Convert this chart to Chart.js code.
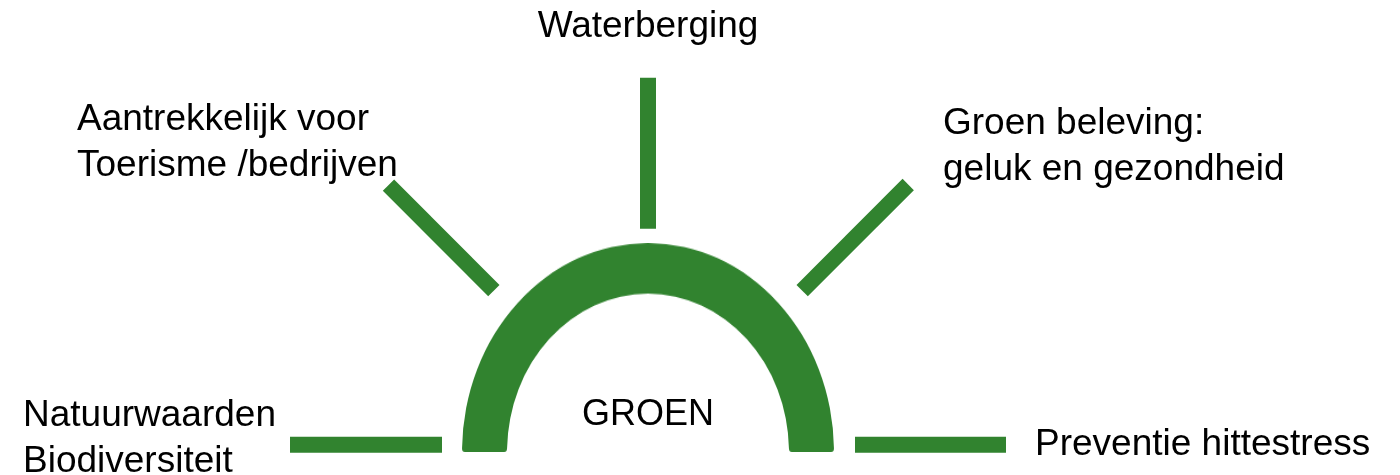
<!DOCTYPE html>
<html>
<head>
<meta charset="utf-8">
<script src="https://cdn.jsdelivr.net/npm/chart.js@4/dist/chart.umd.min.js"></script>
<style>
  html, body { margin: 0; padding: 0; background: #ffffff; overflow: hidden; }
  #stage { position: relative; width: 1400px; height: 475px; }
  #arc { position: absolute; left: 462px; top: 242.5px; width: 372px; height: 209.2px; z-index: 1; }
  #rays { position: absolute; left: 0; top: 0; width: 1400px; height: 475px; z-index: 2; }
</style>
</head>
<body>
<div id="stage">
  <canvas id="arc" width="372" height="186" style="width:372px;height:209.2px;"></canvas>
  <canvas id="rays" width="1400" height="475" style="width:1400px;height:475px;"></canvas>
</div>
<script>
// ---- data ----
const categories = [
  ['Natuurwaarden', 'Biodiversiteit'],
  ['Aantrekkelijk voor', 'Toerisme /bedrijven'],
  ['Waterberging'],
  ['Groen beleving:', 'geluk en gezondheid'],
  ['Preventie hittestress']
];
const centerLabel = 'GROEN';
const arcValues = [1];
const rayAngles = [180, 135, 90, 45, 0];       // degrees
const rayInner = [206, 218, 216, 218, 207];    // start distance from centre
const rayOuter = [358, 367, 367, 368, 358];    // end distance from centre

// ---- layout / style (not data) ----
const GREEN = '#31832f';
const FONT = '"Liberation Sans", Arial, sans-serif';
const rayOriginLift = 7;
const labelLayout = [
  { x: 23, y: 426, align: 'left' },
  { x: 77, y: 130, align: 'left' },
  { x: 648, y: 37, align: 'center' },
  { x: 943, y: 134, align: 'left' },
  { x: 1035, y: 455, align: 'left' }
];
const centerLabelLayout = { x: 648, y: 425, size: 36 };
const labelSize = 37;
const lineHeight = 46;

// Half doughnut (the arc)
new Chart(document.getElementById('arc'), {
  type: 'doughnut',
  data: {
    labels: [centerLabel],
    datasets: [{
      data: arcValues,
      backgroundColor: GREEN,
      borderWidth: 0,
      borderRadius: 3,
      hoverOffset: 0
    }]
  },
  options: {
    animation: false,
    responsive: false,
    maintainAspectRatio: false,
    rotation: -90,
    circumference: 180,
    cutout: '75.8%',
    layout: { padding: 0 },
    events: [],
    plugins: { legend: { display: false }, tooltip: { enabled: false } }
  }
});

// Rays as line datasets on linear scales
const rayDatasets = rayAngles.map((a, i) => {
  const rad = a * Math.PI / 180;
  return {
    label: categories[i].join(' '),
    data: [
      { x: rayInner[i] * Math.cos(rad), y: rayOriginLift + rayInner[i] * Math.sin(rad) },
      { x: rayOuter[i] * Math.cos(rad), y: rayOriginLift + rayOuter[i] * Math.sin(rad) }
    ],
    borderColor: GREEN,
    backgroundColor: GREEN,
    borderWidth: 16,
    borderCapStyle: 'butt',
    pointRadius: 0,
    tension: 0,
    showLine: true,
    fill: false
  };
});

const labelPlugin = {
  id: 'labels',
  afterDraw(chart) {
    const ctx = chart.ctx;
    ctx.save();
    ctx.fillStyle = '#000000';
    ctx.textBaseline = 'alphabetic';
    ctx.font = labelSize + 'px ' + FONT;
    categories.forEach((lines, i) => {
      const L = labelLayout[i];
      ctx.textAlign = L.align;
      lines.forEach((t, j) => ctx.fillText(t, L.x, L.y + j * lineHeight));
    });
    ctx.font = centerLabelLayout.size + 'px ' + FONT;
    ctx.textAlign = 'center';
    ctx.fillText(centerLabel, centerLabelLayout.x, centerLabelLayout.y);
    ctx.restore();
  }
};

new Chart(document.getElementById('rays'), {
  type: 'scatter',
  data: { datasets: rayDatasets },
  options: {
    animation: false,
    responsive: false,
    maintainAspectRatio: false,
    layout: { padding: 0 },
    events: [],
    scales: {
      x: { type: 'linear', min: -648, max: 752, display: false },
      y: { type: 'linear', min: -23.3, max: 451.7, display: false }
    },
    plugins: { legend: { display: false }, tooltip: { enabled: false } }
  },
  plugins: [labelPlugin]
});
</script>
</body>
</html>
